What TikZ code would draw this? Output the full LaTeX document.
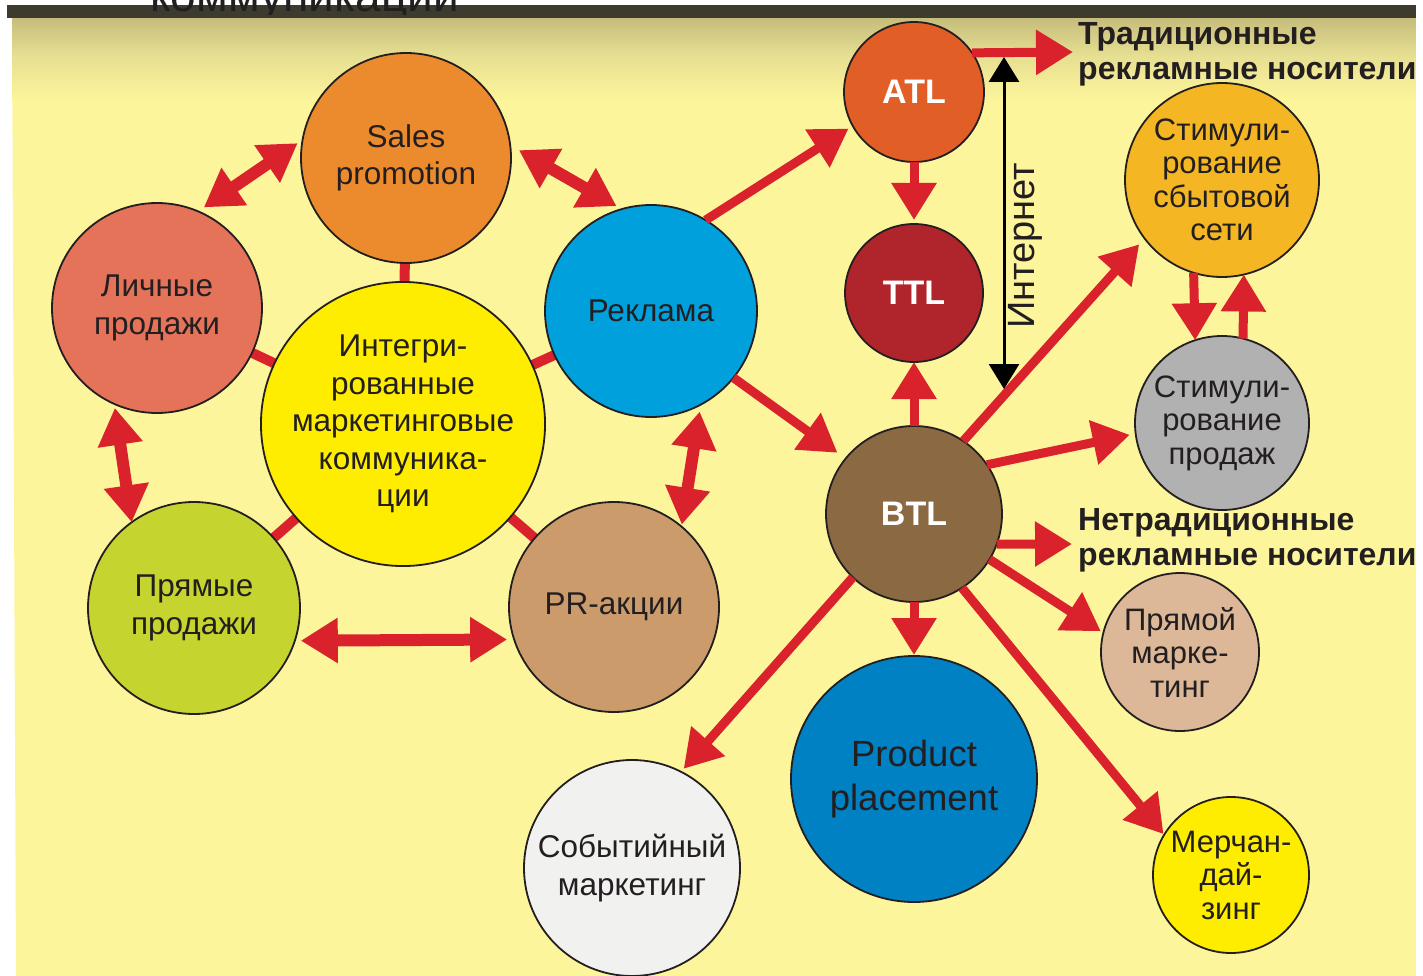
\documentclass[tikz,border=0pt]{standalone}
\usepackage{fontspec}
\setmainfont{Liberation Sans}
\usetikzlibrary{arrows.meta}
\pgfdeclarelayer{background}
\pgfsetlayers{background,main}
\definecolor{bg}{HTML}{FDF59B}
\definecolor{bgtop}{HTML}{C6BD7C}
\definecolor{bgmid}{HTML}{E6DE91}
\definecolor{bar}{HTML}{3D3B2D}
\definecolor{csales}{HTML}{EC8B2E}
\definecolor{clich}{HTML}{E4735A}
\definecolor{crek}{HTML}{00A0DC}
\definecolor{cimc}{HTML}{FFED00}
\definecolor{cpryam}{HTML}{C5D42F}
\definecolor{cpr}{HTML}{CB9B6C}
\definecolor{catl}{HTML}{E15F27}
\definecolor{cttl}{HTML}{AF252B}
\definecolor{cbtl}{HTML}{8B6943}
\definecolor{csbyt}{HTML}{F4B723}
\definecolor{cstprod}{HTML}{B1B1B1}
\definecolor{cpm}{HTML}{DDB898}
\definecolor{cpp}{HTML}{0081C3}
\definecolor{csob}{HTML}{F1F1F0}
\definecolor{cmerch}{HTML}{FFED00}
\definecolor{arrred}{HTML}{D9222C}
\definecolor{textc}{HTML}{231F20}
\tikzset{
  circ/.style={circle, draw=textc, line width=1.8pt, inner sep=0pt, outer sep=0pt,
    align=center, text=textc, font=\fontsize{31.5}{37.5}\selectfont},
  small circ/.style={circ, font=\fontsize{31}{33.5}\selectfont},
  bold circ/.style={circ, text=white, font=\fontsize{34}{38}\selectfont\bfseries},
  spoke/.style={draw=arrred, line width=10pt},
  arr/.style={draw=arrred, line width=9pt, -{Triangle[length=37pt,width=43pt]}},
  darr/.style={draw=arrred, line width=12pt, {Triangle[length=37pt,width=43pt]}-{Triangle[length=37pt,width=43pt]}},
  blackarr/.style={draw=black, line width=3pt, {Triangle[length=25pt,width=30pt]}-{Triangle[length=25pt,width=30pt]}},
  label text/.style={anchor=west, align=left, inner sep=0pt, text=textc, font=\fontsize{32}{35}\selectfont\bfseries}
}
\begin{document}
\begin{tikzpicture}[x=1pt,y=-1pt]
\useasboundingbox (0,0) rectangle (1423,976);
\begin{pgfonlayer}{background}
\fill[white] (0,0) rectangle (1423,976);
\fill[bg] (12,18) -- (1416,18) -- (1416,976) -- (16,976) -- cycle;
\shade[top color=bgtop, bottom color=bgmid] (12,18) rectangle (1416,55);
\shade[top color=bgmid, bottom color=bg] (12,55) rectangle (1416,100);
\fill[bar] (7,5) rectangle (1416,18);
\begin{scope}
\clip (0,0) rectangle (1423,15);
\node[anchor=base west, inner sep=0pt, text=textc, font=\fontsize{46}{46}\selectfont] (toptext) at (150,12) {коммуникации};
\end{scope}
\end{pgfonlayer}

% circles
\node[circ, fill=csales, minimum size=210pt] (sales) at (406,158) {Sales\\promotion};
\node[circ, fill=clich, minimum size=210pt] (lich) at (157,308) {Личные\\продажи};
\node[circ, fill=crek, minimum size=212pt] (rek) at (651,311) {Реклама};
\node[circ, fill=cimc, minimum size=242pt] (imc) at (403,424) {Интегри-\\рованные\\маркетинговые\\коммуника-\\ции};
\node[circ, fill=cpryam, minimum size=212pt] (pryam) at (194,608) {Прямые\\продажи};
\node[circ, fill=cpr, minimum size=210pt] (pr) at (614,607) {PR-акции};
\node[bold circ, fill=catl, minimum size=140pt] (atl) at (914,92) {ATL};
\node[bold circ, fill=cttl, minimum size=138pt] (ttl) at (914,293) {TTL};
\node[bold circ, fill=cbtl, minimum size=176pt] (btl) at (914,514) {BTL};
\node[small circ, fill=csbyt, minimum size=194pt] (sbyt) at (1222,180) {Стимули-\\рование\\сбытовой\\сети};
\node[small circ, fill=cstprod, minimum size=174pt] (stprod) at (1222,423) {Стимули-\\рование\\продаж};
\node[small circ, fill=cpm, minimum size=158pt] (pm) at (1180,652) {Прямой\\марке-\\тинг};
\node[circ, fill=cpp, minimum size=246pt, font=\fontsize{36.5}{44}\selectfont] (pp) at (914,779) {Product\\placement};
\node[circ, fill=csob, minimum size=216pt] (sob) at (632,868) {Событийный\\маркетинг};
\node[small circ, fill=cmerch, minimum size=156pt] (merch) at (1231,875) {Мерчан-\\дай-\\зинг};

% spokes from the central circle
\begin{pgfonlayer}{background}
\draw[spoke] (imc.center) -- (sales.center);
\draw[spoke] (imc.center) -- (lich.center);
\draw[spoke] (imc.center) -- (rek.center);
\draw[spoke] (imc.center) -- (pryam.center);
\draw[spoke] (imc.center) -- (pr.center);
\end{pgfonlayer}

% double arrows around the ring
\draw[darr, shorten <=7pt, shorten >=6pt] (lich.67) -- (sales.170);
\draw[darr, shorten <=10pt, shorten >=6pt] (sales.7.5) -- (rek.106);
\draw[darr, shorten <=4pt, shorten >=0pt] (lich.246) -- (pryam.126);
\draw[darr, shorten <=7pt, shorten >=2pt] (rek.-62.5) -- (pr.50);
\draw[darr, shorten <=6pt, shorten >=7pt] (pryam.-18.3) -- (pr.198.8);

% single arrows
\draw[arr, shorten >=5pt] (rek.59) -- (atl.209);
\draw[arr, shorten >=10pt] (rek.-39.6) -- (btl.141.6);
\draw[arr, shorten >=4pt] (atl.south) -- (ttl.north);
\draw[arr] (btl.north) -- (ttl.south);
\coordinate (atlR) at (1073,52);
\draw[arr] (atl.34.8) -- (atlR);
\coordinate (btlR) at (1072,544);
\draw[arr] (btl.-20) -- (btlR);
\draw[arr, shorten >=8pt] (btl.56.5) -- (sbyt.217);
\draw[arr, shorten >=6pt] (btl.34.4) -- (stprod.187.4);
\draw[arr] (sbyt.253.8) -- (stprod.108.1);
\draw[arr] (stprod.76) -- (sbyt.-77.5);
\draw[arr, shorten >=3pt] (btl.-31.2) -- (pm.166);
\draw[arr, shorten >=1pt] (btl.south) -- (pp.north);
\draw[arr, shorten >=4pt] (btl.226.9) -- (sob.63.4);
\draw[arr, shorten >=1pt] (btl.-57) -- (merch.149.5);

% Internet
\coordinate (inT) at (1004,57);
\coordinate (inB) at (1004,389);
\draw[blackarr] (inT) -- (inB);
\node[rotate=90, inner sep=0pt, text=textc, font=\fontsize{38}{38}\selectfont] (inet) at (1025,246) {Интернет};

% side labels
\node[label text] (trad) at (1078,54) {Традиционные\\рекламные носители};
\node[label text] (netrad) at (1078,540) {Нетрадиционные\\рекламные носители};

\fill[white] (1416,0) rectangle (1423,976);
\end{tikzpicture}
\end{document}
